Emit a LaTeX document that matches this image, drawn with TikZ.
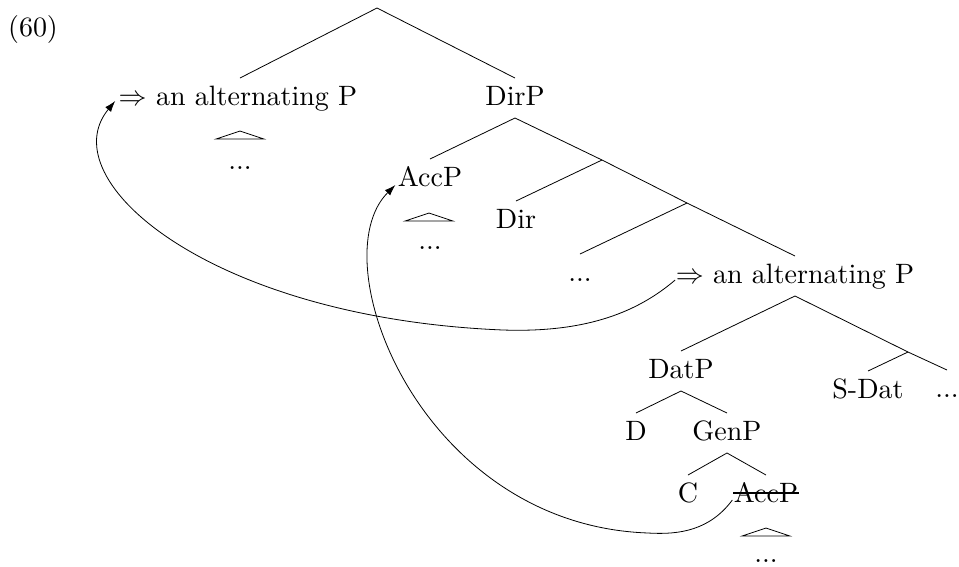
\documentclass[tikz,border=0pt]{standalone}
\usetikzlibrary{arrows.meta}
\begin{document}
\begin{tikzpicture}[x=1pt,y=-1pt,
  lbl/.style={font=\fontsize{10}{12}\selectfont, scale=2.8, inner sep=2.5pt,
              text height=6.94pt, text depth=1.94pt, anchor=base},
  branch/.style={line width=0.8pt},
  mover/.style={line width=0.8pt, -{Latex[length=11pt,width=7.5pt]}},
  tri/.style={line width=0.8pt}]
\useasboundingbox (0,0) rectangle (959,566);

% label
\node[lbl] (ex) at (33,36) {(60)};

% nodes
\coordinate (root) at (377,8);
\node[lbl] (altU) at (238,105) {$\Rightarrow$ an alternating P};
\node[lbl] (dirP) at (515,105) {DirP};
\node[lbl] (accU) at (430,186) {AccP};
\coordinate (j1) at (602,160);
\node[lbl] (dir) at (516,228) {Dir};
\coordinate (j2) at (687,203);
\node[lbl] (dotsA) at (580,281) {...};
\node[lbl] (altL) at (795,283) {$\Rightarrow$ an alternating P};
\node[lbl] (datP) at (681,378) {DatP};
\coordinate (j3) at (908,352);
\node[lbl] (sdat) at (868,398) {S-Dat};
\node[lbl] (dotsB) at (947,397) {...};
\node[lbl] (d) at (636,440) {D};
\node[lbl] (genP) at (727,440) {GenP};
\node[lbl] (c) at (688,502) {C};
\node[lbl] (accL) at (766,502) {AccP};

% triangles and their dots
\coordinate (tUa) at (240,131); \coordinate (tUl) at (216,139); \coordinate (tUr) at (264,139);
\draw[tri] (tUa) -- (tUl) -- (tUr) -- cycle;
\node[lbl] (dotsU) at (240,169) {...};
\coordinate (tAa) at (429,213); \coordinate (tAl) at (405,221); \coordinate (tAr) at (453,221);
\draw[tri] (tAa) -- (tAl) -- (tAr) -- cycle;
\node[lbl] (dotsAcc) at (430,249) {...};
\coordinate (tLa) at (766,528); \coordinate (tLl) at (742,536); \coordinate (tLr) at (790,536);
\draw[tri] (tLa) -- (tLl) -- (tLr) -- cycle;
\node[lbl] (dotsL) at (766,562) {...};

% branches
\draw[branch] (altU.north -| tUa) -- (root) -- (dirP.north);
\draw[branch] (accU.north) -- (dirP.south) -- (j1) -- (j2) -- (altL.north);
\draw[branch] (j1) -- (dir.north);
\draw[branch] (j2) -- (dotsA.north);
\draw[branch] (datP.north) -- (altL.south) -- (j3) -- (dotsB.north);
\draw[branch] (j3) -- (sdat.north);
\draw[branch] (d.north) -- (datP.south) -- (genP.north);
\draw[branch] (c.north) -- (genP.south) -- (accL.north);

% strike-through of the lower AccP
\draw[line width=1.3pt] ([shift={(7,-2)}]accL.west) -- ([shift={(-7,-2)}]accL.east);

% movement arrows
\draw[mover] ([shift={(7,4)}]altL.west) .. controls (640,310) and (590,333) .. (503,330)
   .. controls (210,318) and (50,180) .. ([shift={(4,3)}]altU.west);
\draw[mover] ([shift={(6,5)}]accL.west) .. controls (710,530) and (680,535) .. (648,533)
   .. controls (420,525) and (320,260) .. ([shift={(5,6)}]accU.west);
\end{tikzpicture}
\end{document}
